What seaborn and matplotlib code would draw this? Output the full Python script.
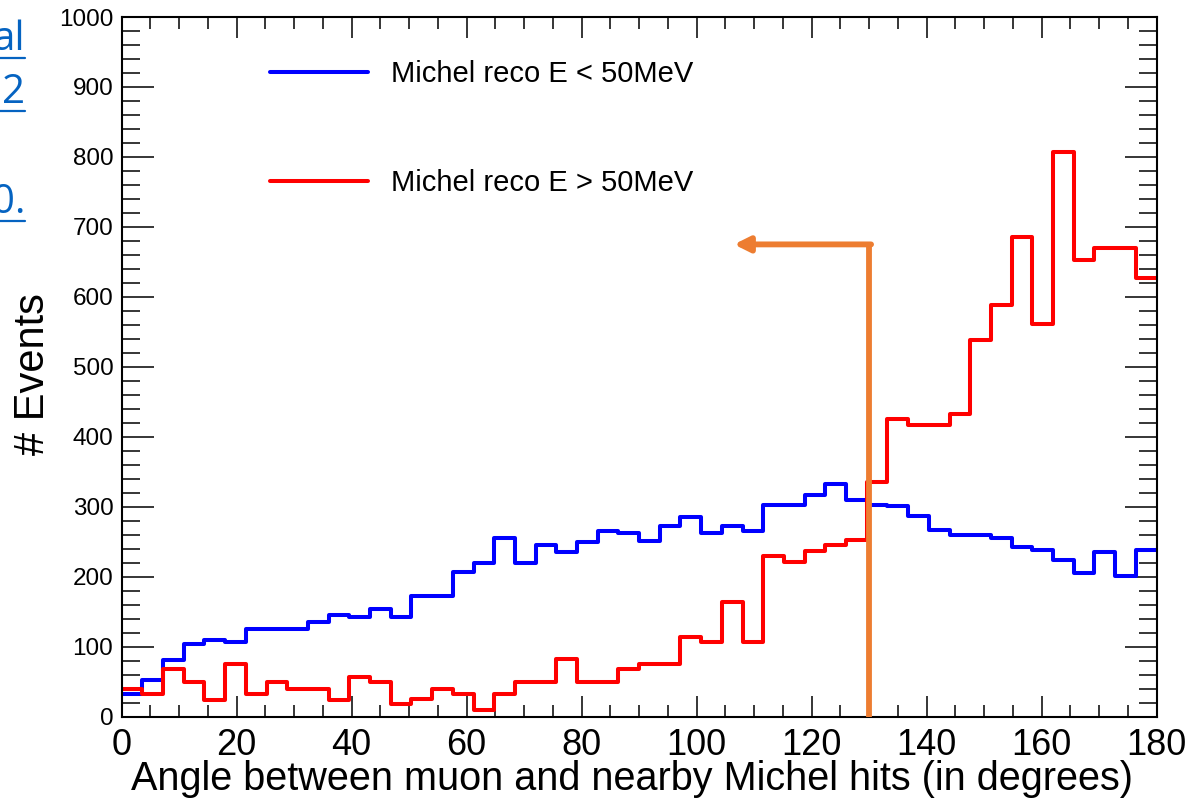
import numpy as np
import pandas as pd
import matplotlib
matplotlib.use("Agg")
import matplotlib.pyplot as plt
from matplotlib.lines import Line2D
import seaborn as sns

# ---- data ----
bin_edges = [round(3.6 * i, 1) for i in range(51)]  # 50 bins of 3.6 degrees
low_E = [33, 53, 81, 104, 110, 107, 126, 126, 126, 136,
         146, 143, 154, 143, 172, 172, 207, 220, 255, 220,
         246, 235, 250, 265, 262, 251, 272, 286, 262, 272,
         265, 302, 303, 317, 332, 310, 303, 301, 287, 267,
         259, 259, 255, 242, 238, 224, 205, 235, 201, 238]
high_E = [40, 33, 68, 49, 24, 75, 33, 49, 40, 40,
          24, 57, 49, 18, 25, 40, 32, 10, 32, 49,
          49, 83, 49, 49, 68, 75, 75, 114, 107, 164,
          107, 229, 221, 237, 246, 253, 335, 425, 417, 417,
          433, 538, 588, 686, 561, 807, 652, 670, 670, 627]
label_low = "Michel reco E < 50MeV"
label_high = "Michel reco E > 50MeV"
x_label = "Angle between muon and nearby Michel hits (in degrees)"
y_label = "# Events"
cut_angle = 130
arrow_level = 675
arrow_tip = 106.5
side_fragments = ["al", "2", "0."]

edges_arr = np.array(bin_edges)
centers = (edges_arr[:-1] + edges_arr[1:]) / 2
df = pd.DataFrame({
    "angle": np.concatenate([centers, centers]),
    "count": np.concatenate([low_E, high_E]),
    "sample": [label_low] * len(centers) + [label_high] * len(centers),
})

sns.set_style("ticks")
plt.rcParams["font.family"] = ["Liberation Sans", "DejaVu Sans"]
for k in ["text.color", "axes.labelcolor", "xtick.color", "ytick.color",
          "xtick.labelcolor", "ytick.labelcolor", "axes.edgecolor"]:
    plt.rcParams[k] = "black"

W, H = 1192, 800
fig = plt.figure(figsize=(W / 100, H / 100), dpi=100)
ax = fig.add_axes([121.7 / W, 1 - 716.7 / H, (1156.5 - 121.7) / W, (716.7 - 17) / H])

palette = {label_low: "#0000FF", label_high: "#FF0000"}
for lab in [label_low, label_high]:
    sub = df[df["sample"] == lab]
    sns.histplot(data=sub, x="angle", weights="count", bins=bin_edges,
                 element="step", fill=False, color=palette[lab],
                 linewidth=2.9, ax=ax, label=lab)

ax.set_xlim(0, 180)
ax.set_ylim(0, 1000)
ax.set_xticks(np.arange(0, 181, 20))
ax.set_xticks(np.arange(0, 181, 5), minor=True)
ax.set_yticks(np.arange(0, 1001, 100))
ax.set_yticks(np.arange(0, 1001, 20), minor=True)

for s in ax.spines.values():
    s.set_linewidth(1.5)
    s.set_color("black")

ax.tick_params(axis="both", which="both", direction="in", top=True, right=True,
               width=1.1, color="black", labelcolor="black")
ax.tick_params(axis="x", which="major", length=15, labelsize=26, pad=8)
ax.tick_params(axis="x", which="minor", length=8.5)
ax.tick_params(axis="y", which="major", length=23, labelsize=17.5, pad=6)
ax.tick_params(axis="y", which="minor", length=13)

ax.set_xlabel(x_label, fontsize=28.5)
ax.xaxis.set_label_coords(0.4936, -0.0625)
ax.set_ylabel(y_label, fontsize=30)
ax.yaxis.set_label_coords(-0.066, 0.49)

# legend (no frame)
handles = [Line2D([0], [0], color=palette[label_low], lw=2.9),
           Line2D([0], [0], color=palette[label_high], lw=2.9)]
leg = ax.legend(handles, [label_low, label_high], loc="upper left",
                bbox_to_anchor=(270 / W, 1 - 60 / H), bbox_transform=fig.transFigure,
                frameon=False, fontsize=21, handlelength=3.36, handletextpad=0.8,
                labelspacing=2.79, borderpad=0, borderaxespad=0)

# orange cut marker
orange = "#ED7D31"
ax.plot([cut_angle, cut_angle], [0, arrow_level], color=orange, lw=4.2,
        solid_capstyle="butt", zorder=5)
ax.annotate("", xy=(arrow_tip, arrow_level), xytext=(cut_angle + 0.35, arrow_level),
            arrowprops=dict(arrowstyle="-|>,head_length=0.9,head_width=0.45",
                            color=orange, lw=4.2, shrinkA=0, shrinkB=0),
            zorder=5)

# clipped slide text on the left edge
link = "#0563C1"
frag_y = [50, 103, 213]
for txt, yb in zip(side_fragments, frag_y):
    fig.text(25 / W, 1 - yb / H, txt, ha="right", va="baseline",
             fontsize=29, color=link, family=["Open Sans", "DejaVu Sans"])
    fig.add_artist(Line2D([0, 25 / W], [1 - (yb + 8) / H] * 2, color=link, lw=1.6))

fig.savefig("out.png", dpi=100)
